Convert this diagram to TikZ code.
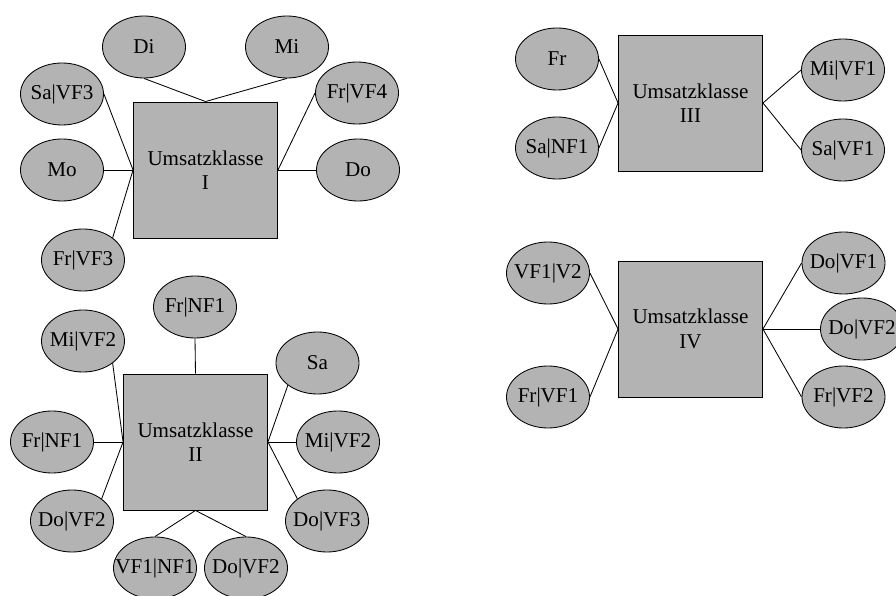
\documentclass[tikz,border=0pt]{standalone}
\usepackage{fontspec}
\setmainfont{Liberation Serif}
\usetikzlibrary{shapes.geometric}
\definecolor{klassgrau}{RGB}{179,179,179}

\begin{document}
\begin{tikzpicture}[x=0.025cm, y=-0.025cm, line width=0.6pt,
    klasse/.style={draw, fill=klassgrau, minimum width=3.6cm, minimum height=3.4cm,
        inner sep=0pt, align=center, font=\fontsize{15}{17.5}\selectfont},
    tagoval/.style={ellipse, draw, fill=klassgrau, minimum width=2.075cm, minimum height=1.55cm,
        inner sep=0pt, label={[font=\fontsize{15}{17.5}\selectfont]center:#1}}]
    \useasboundingbox (0,0) rectangle (896,596);
    % Umsatzklasse I
    \node[klasse] (k1) at (205.5,170) {Umsatzklasse\\I};
    \node[tagoval=Di] (di1) at (144,47) {};
    \node[tagoval=Mi] (mi1) at (287,47) {};
    \node[tagoval=Sa|VF3] (savf3) at (62,94) {};
    \node[tagoval=Mo] (mo1) at (62,170) {};
    \node[tagoval=Fr|VF3] (frvf3) at (83,260) {};
    \node[tagoval=Fr|VF4] (frvf4) at (357,93) {};
    \node[tagoval=Do] (do1) at (358,170) {};
    \draw (k1.north) -- (di1.south);
    \draw (k1.north) -- (mi1.south);
    \draw (k1.west) -- (savf3.east);
    \draw (k1.west) -- (mo1.east);
    \draw (k1.west) -- (frvf3.north east);
    \draw (k1.east) -- (frvf4.west);
    \draw (k1.east) -- (do1.west);
    % Umsatzklasse II
    \node[klasse] (k2) at (195.5,442) {Umsatzklasse\\II};
    \node[tagoval=Fr|NF1] (frnf1a) at (195,307) {};
    \node[tagoval=Mi|VF2] (mivf2a) at (83,341) {};
    \node[tagoval=Sa] (sa2) at (317.5,363) {};
    \node[tagoval=Fr|NF1] (frnf1b) at (52,442) {};
    \node[tagoval=Mi|VF2] (mivf2b) at (338,442) {};
    \node[tagoval=Do|VF2] (dovf2a) at (72,521) {};
    \node[tagoval=Do|VF3] (dovf3) at (327,521) {};
    \node[tagoval=VF1|NF1] (vf1nf1) at (155,568) {};
    \node[tagoval=Do|VF2] (dovf2b) at (246,568) {};
    \draw (k2.north) -- (frnf1a.south);
    \draw (k2.west) -- (mivf2a.south east);
    \draw (k2.east) -- (sa2.south west);
    \draw (k2.west) -- (frnf1b.east);
    \draw (k2.east) -- (mivf2b.west);
    \draw (k2.west) -- (dovf2a.north east);
    \draw (k2.east) -- (dovf3.north west);
    \draw (k2.south) -- (vf1nf1.north);
    \draw (k2.south) -- (dovf2b.north);
    % Umsatzklasse III
    \node[klasse] (k3) at (690.5,103) {Umsatzklasse\\III};
    \node[tagoval=Fr] (fr3) at (557,59) {};
    \node[tagoval=Sa|NF1] (sanf1) at (557,148) {};
    \node[tagoval=Mi|VF1] (mivf1) at (843,70) {};
    \node[tagoval=Sa|VF1] (savf1) at (843,150) {};
    \draw (k3.west) -- (fr3.east);
    \draw (k3.west) -- (sanf1.east);
    \draw (k3.east) -- (mivf1.west);
    \draw (k3.east) -- (savf1.west);
    % Umsatzklasse IV
    \node[klasse] (k4) at (690.5,329) {Umsatzklasse\\IV};
    \node[tagoval=VF1|V2] (vf1v2) at (548,273) {};
    \node[tagoval=Fr|VF1] (frvf1) at (548,397) {};
    \node[tagoval=Do|VF1] (dovf1) at (843.5,263) {};
    \node[tagoval=Do|VF2] (dovf2c) at (862,329) {};
    \node[tagoval=Fr|VF2] (frvf2) at (843.5,397) {};
    \draw (k4.west) -- (vf1v2.east);
    \draw (k4.west) -- (frvf1.east);
    \draw (k4.east) -- (dovf1.west);
    \draw (k4.east) -- (dovf2c.west);
    \draw (k4.east) -- (frvf2.west);
\end{tikzpicture}
\end{document}
